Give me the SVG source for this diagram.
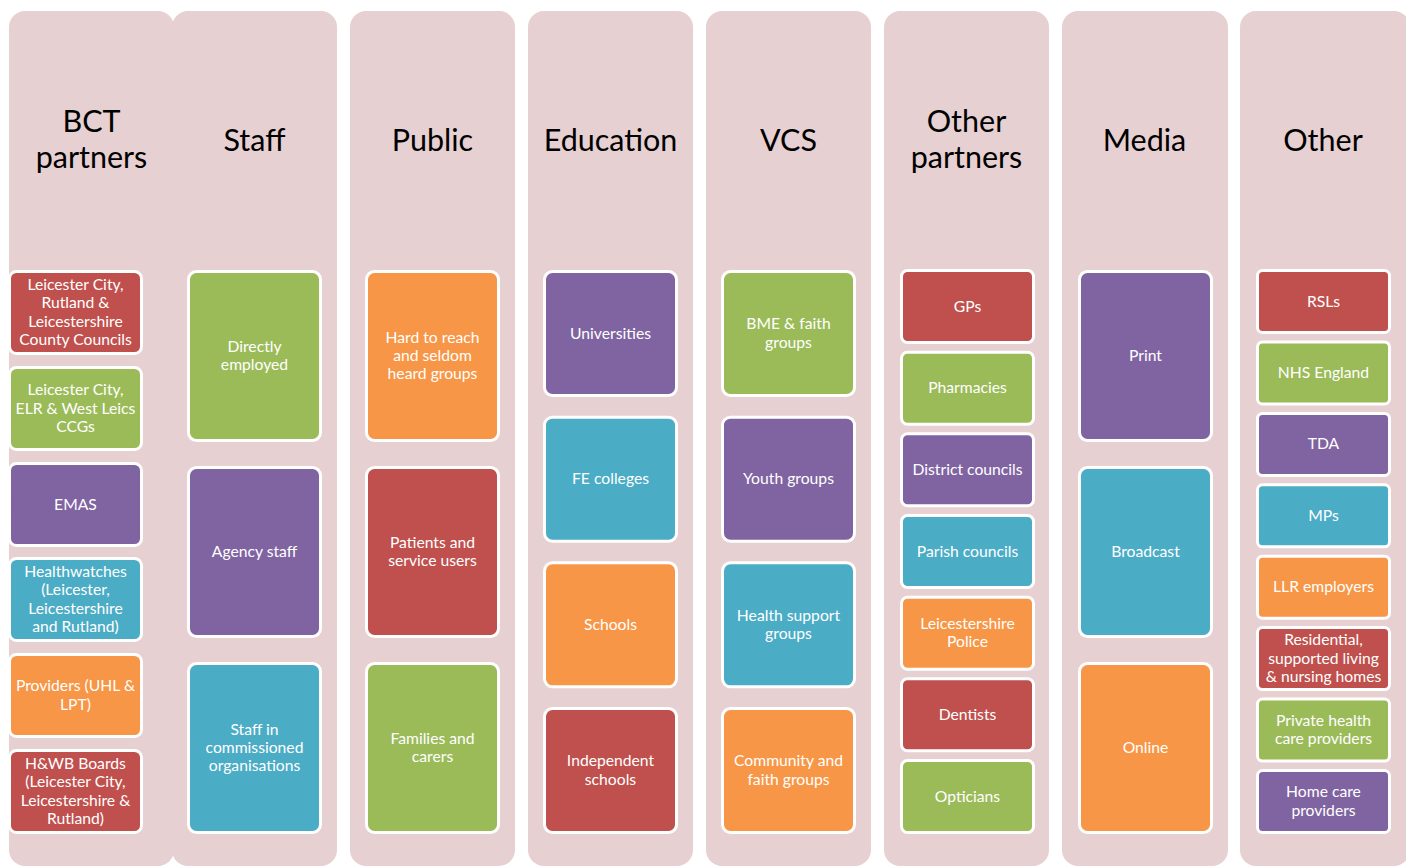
<svg xmlns="http://www.w3.org/2000/svg" width="1406" height="868" viewBox="0 0 1406 868">
<style>
.col{fill:#E7D0D1}
.b{stroke:#fff;stroke-width:3}
.r{fill:#C0504D}.g{fill:#9BBB59}.p{fill:#8064A2}.c{fill:#4BACC6}.o{fill:#F79646}
.h{font-family:Lato,"Open Sans",sans-serif;font-size:30.5px;fill:#000;text-anchor:middle}
.t{font-family:Lato,"Open Sans",sans-serif;font-size:15.7px;fill:#fff;text-anchor:middle}
</style>
<rect width="1406" height="868" fill="#fff"/>
<g id="columns">
<rect class="col" x="9" y="11" width="165" height="855" rx="16"/>
<rect class="col" x="172" y="11" width="165" height="855" rx="16"/>
<rect class="col" x="350" y="11" width="165" height="855" rx="16"/>
<rect class="col" x="528" y="11" width="165" height="855" rx="16"/>
<rect class="col" x="706" y="11" width="165" height="855" rx="16"/>
<rect class="col" x="884" y="11" width="165" height="855" rx="16"/>
<rect class="col" x="1062" y="11" width="166" height="855" rx="16"/>
<rect class="col" x="1240" y="11" width="170" height="855" rx="16"/>
</g>
<g id="headers">
<text class="h" x="91.5" y="132">BCT</text><text class="h" x="91.5" y="167.5">partners</text>
<text class="h" x="254.5" y="151">Staff</text>
<text class="h" x="432.5" y="151">Public</text>
<text class="h" x="610.5" y="151">Education</text>
<text class="h" x="788.5" y="151">VCS</text>
<text class="h" x="966.5" y="132">Other</text><text class="h" x="966.5" y="167.5">partners</text>
<text class="h" x="1144.5" y="151">Media</text>
<text class="h" x="1323" y="151">Other</text>
</g>
<g id="connectors"></g>
<!-- BCT partners -->
<g id="bct1"><rect class="b r" x="9.5" y="271.5" width="132" height="82" rx="7"/><text class="t" x="75.5" y="290.2">Leicester City,<tspan x="75.5" dy="18.2">Rutland &amp;</tspan><tspan x="75.5" dy="18.2">Leicestershire</tspan><tspan x="75.5" dy="18.2">County Councils</tspan></text></g>
<g id="bct2"><rect class="b g" x="9.5" y="367.5" width="132" height="82" rx="7"/><text class="t" x="75.5" y="395.3">Leicester City,<tspan x="75.5" dy="18.2">ELR &amp; West Leics</tspan><tspan x="75.5" dy="18.2">CCGs</tspan></text></g>
<g id="bct3"><rect class="b p" x="9.5" y="463.5" width="132" height="82" rx="7"/><text class="t" x="75.5" y="509.5">EMAS</text></g>
<g id="bct4"><rect class="b c" x="9.5" y="558.5" width="132" height="82" rx="7"/><text class="t" x="75.5" y="577.2">Healthwatches<tspan x="75.5" dy="18.2">(Leicester,</tspan><tspan x="75.5" dy="18.2">Leicestershire</tspan><tspan x="75.5" dy="18.2">and Rutland)</tspan></text></g>
<g id="bct5"><rect class="b o" x="9.5" y="654.5" width="132" height="82" rx="7"/><text class="t" x="75.5" y="691.4">Providers (UHL &amp;<tspan x="75.5" dy="18.2">LPT)</tspan></text></g>
<g id="bct6"><rect class="b r" x="9.5" y="750.5" width="132" height="82" rx="7"/><text class="t" x="75.5" y="769.2">H&amp;WB Boards<tspan x="75.5" dy="18.2">(Leicester City,</tspan><tspan x="75.5" dy="18.2">Leicestershire &amp;</tspan><tspan x="75.5" dy="18.2">Rutland)</tspan></text></g>
<!-- Staff -->
<g id="staff1"><rect class="b g" x="188.5" y="271.5" width="132" height="169" rx="8"/><text class="t" x="254.5" y="351.9">Directly<tspan x="254.5" dy="18.2">employed</tspan></text></g>
<g id="staff2"><rect class="b p" x="188.5" y="467.5" width="132" height="169" rx="8"/><text class="t" x="254.5" y="557">Agency staff</text></g>
<g id="staff3"><rect class="b c" x="188.5" y="663.5" width="132" height="169" rx="8"/><text class="t" x="254.5" y="734.8">Staff in<tspan x="254.5" dy="18.2">commissioned</tspan><tspan x="254.5" dy="18.2">organisations</tspan></text></g>
<!-- Public -->
<g id="public1"><rect class="b o" x="366.5" y="271.5" width="132" height="169" rx="8"/><text class="t" x="432.5" y="342.8">Hard to reach<tspan x="432.5" dy="18.2">and seldom</tspan><tspan x="432.5" dy="18.2">heard groups</tspan></text></g>
<g id="public2"><rect class="b r" x="366.5" y="467.5" width="132" height="169" rx="8"/><text class="t" x="432.5" y="547.9">Patients and<tspan x="432.5" dy="18.2">service users</tspan></text></g>
<g id="public3"><rect class="b g" x="366.5" y="663.5" width="132" height="169" rx="8"/><text class="t" x="432.5" y="743.9">Families and<tspan x="432.5" dy="18.2">carers</tspan></text></g>
<!-- Education -->
<g id="edu1"><rect class="b p" x="544.5" y="271.5" width="132" height="124" rx="8"/><text class="t" x="610.5" y="338.5">Universities</text></g>
<g id="edu2"><rect class="b c" x="544.5" y="417.2" width="132" height="124" rx="8"/><text class="t" x="610.5" y="484.2">FE colleges</text></g>
<g id="edu3"><rect class="b o" x="544.5" y="562.8" width="132" height="124" rx="8"/><text class="t" x="610.5" y="629.8">Schools</text></g>
<g id="edu4"><rect class="b r" x="544.5" y="708.5" width="132" height="124" rx="8"/><text class="t" x="610.5" y="766.4">Independent<tspan x="610.5" dy="18.2">schools</tspan></text></g>
<!-- VCS -->
<g id="vcs1"><rect class="b g" x="722.5" y="271.5" width="132" height="124" rx="8"/><text class="t" x="788.5" y="329.4">BME &amp; faith<tspan x="788.5" dy="18.2">groups</tspan></text></g>
<g id="vcs2"><rect class="b p" x="722.5" y="417.2" width="132" height="124" rx="8"/><text class="t" x="788.5" y="484.2">Youth groups</text></g>
<g id="vcs3"><rect class="b c" x="722.5" y="562.8" width="132" height="124" rx="8"/><text class="t" x="788.5" y="620.7">Health support<tspan x="788.5" dy="18.2">groups</tspan></text></g>
<g id="vcs4"><rect class="b o" x="722.5" y="708.5" width="132" height="124" rx="8"/><text class="t" x="788.5" y="766.4">Community and<tspan x="788.5" dy="18.2">faith groups</tspan></text></g>
<!-- Other partners -->
<g id="op1"><rect class="b r" x="901.5" y="270.5" width="132" height="72" rx="6"/><text class="t" x="967.5" y="311.5">GPs</text></g>
<g id="op2"><rect class="b g" x="901.5" y="352.2" width="132" height="72" rx="6"/><text class="t" x="967.5" y="393.2">Pharmacies</text></g>
<g id="op3"><rect class="b p" x="901.5" y="433.8" width="132" height="72" rx="6"/><text class="t" x="967.5" y="474.8">District councils</text></g>
<g id="op4"><rect class="b c" x="901.5" y="515.5" width="132" height="72" rx="6"/><text class="t" x="967.5" y="556.5">Parish councils</text></g>
<g id="op5"><rect class="b o" x="901.5" y="597.2" width="132" height="72" rx="6"/><text class="t" x="967.5" y="629.1">Leicestershire<tspan x="967.5" dy="18.2">Police</tspan></text></g>
<g id="op6"><rect class="b r" x="901.5" y="678.8" width="132" height="72" rx="6"/><text class="t" x="967.5" y="719.8">Dentists</text></g>
<g id="op7"><rect class="b g" x="901.5" y="760.5" width="132" height="72" rx="6"/><text class="t" x="967.5" y="801.5">Opticians</text></g>
<!-- Media -->
<g id="media1"><rect class="b p" x="1079.5" y="271.5" width="132" height="169" rx="8"/><text class="t" x="1145.5" y="361">Print</text></g>
<g id="media2"><rect class="b c" x="1079.5" y="467.5" width="132" height="169" rx="8"/><text class="t" x="1145.5" y="557">Broadcast</text></g>
<g id="media3"><rect class="b o" x="1079.5" y="663.5" width="132" height="169" rx="8"/><text class="t" x="1145.5" y="753">Online</text></g>
<!-- Other -->
<g id="other1"><rect class="b r" x="1257.5" y="270.5" width="132" height="62" rx="5"/><text class="t" x="1323.5" y="306.5">RSLs</text></g>
<g id="other2"><rect class="b g" x="1257.5" y="341.9" width="132" height="62" rx="5"/><text class="t" x="1323.5" y="377.9">NHS England</text></g>
<g id="other3"><rect class="b p" x="1257.5" y="413.4" width="132" height="62" rx="5"/><text class="t" x="1323.5" y="449.4">TDA</text></g>
<g id="other4"><rect class="b c" x="1257.5" y="484.8" width="132" height="62" rx="5"/><text class="t" x="1323.5" y="520.8">MPs</text></g>
<g id="other5"><rect class="b o" x="1257.5" y="556.2" width="132" height="62" rx="5"/><text class="t" x="1323.5" y="592.2">LLR employers</text></g>
<g id="other6"><rect class="b r" x="1257.5" y="627.6" width="132" height="62" rx="5"/><text class="t" x="1323.5" y="645.4">Residential,<tspan x="1323.5" dy="18.2">supported living</tspan><tspan x="1323.5" dy="18.2">&amp; nursing homes</tspan></text></g>
<g id="other7"><rect class="b g" x="1257.5" y="699.1" width="132" height="62" rx="5"/><text class="t" x="1323.5" y="726">Private health<tspan x="1323.5" dy="18.2">care providers</tspan></text></g>
<g id="other8"><rect class="b p" x="1257.5" y="770.5" width="132" height="62" rx="5"/><text class="t" x="1323.5" y="797.4">Home care<tspan x="1323.5" dy="18.2">providers</tspan></text></g>
</svg>
